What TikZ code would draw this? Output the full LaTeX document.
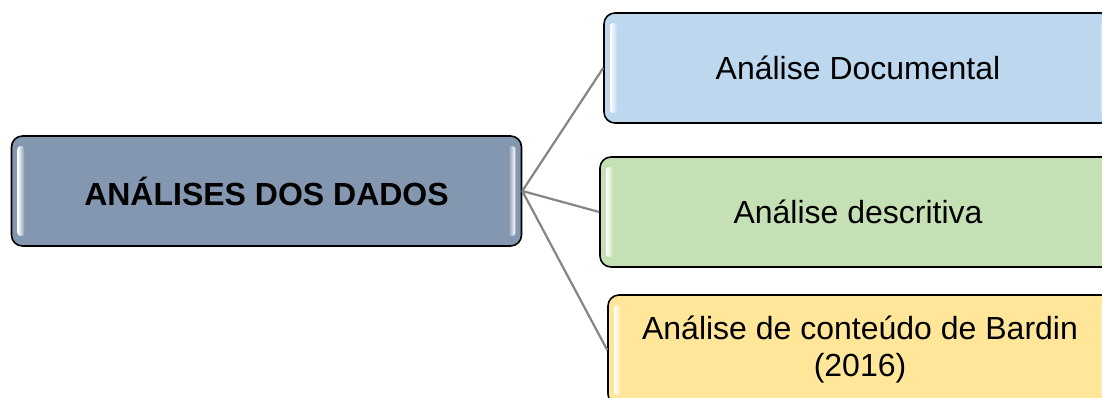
\documentclass[tikz,border=0pt]{standalone}
\usepackage{fontspec}
\setmainfont{Liberation Sans}
\usetikzlibrary{calc}

\definecolor{rootfill}{HTML}{8497B0}
\definecolor{bluefill}{HTML}{BDD7EE}
\definecolor{greenfill}{HTML}{C5E0B4}
\definecolor{yellowfill}{HTML}{FFE699}
\definecolor{linkgray}{HTML}{858585}

\tikzset{
  box/.style={draw=black, line width=1.6pt, rounded corners=11pt,
    minimum width=#1, minimum height=110pt, align=center,
    font=\fontsize{32}{37}\selectfont, inner sep=0pt},
  box/.default=510pt,
  link/.style={draw=linkgray, line width=2.2pt},
}

% glossy vertical highlights along the inner left and right edges of a box
\newcommand{\gloss}[2]{%
  \shade[left color=white, right color=#2, rounded corners=2.5pt]
    ($(#1.north west)+(7,11)$) rectangle ($(#1.south west)+(14,-11)$);
  \shade[left color=#2, right color=white, rounded corners=2.5pt]
    ($(#1.north east)+(-14,11)$) rectangle ($(#1.south east)+(-7,-11)$);
}

\begin{document}
\begin{tikzpicture}[x=1pt,y=-1pt]
  \useasboundingbox (0,0) rectangle (1102,398);
  \clip (0,0) rectangle (1102,398);

  % root and the three branches
  \node[box=510pt, fill=rootfill, font=\fontsize{32}{37}\selectfont\bfseries]
    (root) at (266.5,191) {ANÁLISES DOS DADOS};
  \node[box=508pt, fill=bluefill]   (doc)  at (858,68)  {Análise Documental};
  \node[box=516pt, fill=greenfill]  (desc) at (858,212) {Análise descritiva};
  \node[box=504pt, fill=yellowfill] (bard) at (860,350)
    {Análise de conteúdo de Bardin\\(2016)};

  \gloss{root}{rootfill}
  \gloss{doc}{bluefill}
  \gloss{desc}{greenfill}
  \gloss{bard}{yellowfill}

  % connectors from the root to each branch
  \path[link] (root.east) -- (doc.west);
  \path[link] (root.east) -- (desc.west);
  \path[link] (root.east) -- (bard.west);
\end{tikzpicture}
\end{document}
